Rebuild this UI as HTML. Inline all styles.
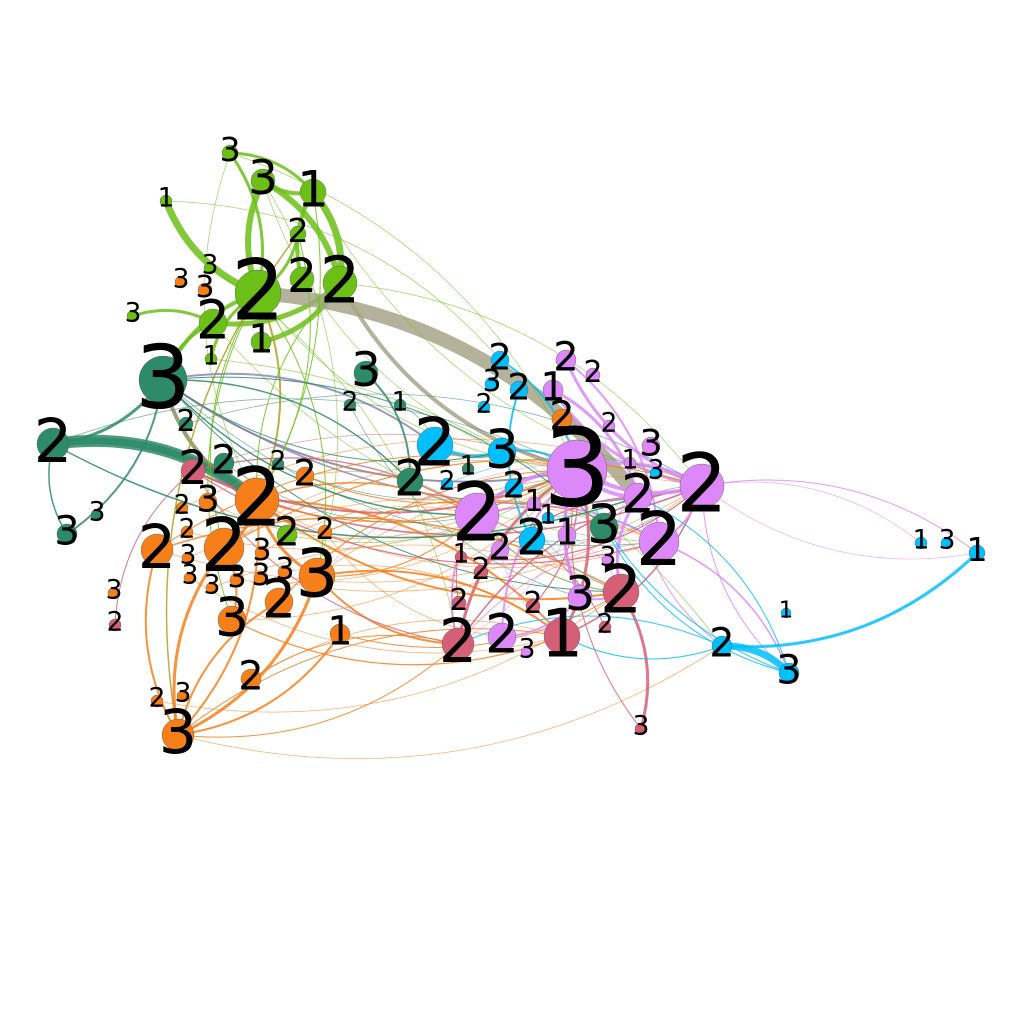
<!DOCTYPE html>
<html><head><meta charset="utf-8"><style>
html,body{margin:0;padding:0;background:#fff;}
svg{display:block;}
text{font-family:"DejaVu Sans","Liberation Sans",sans-serif;fill:#000;}
</style></head><body>
<svg id="chart" width="1024" height="1024" viewBox="0 0 1024 1024">
<g id="edges"></g>
<g id="nodes"></g>
<g id="labels"></g>
</svg>
<script>
const groupColors = {G:"#6cbf16",O:"#f77f1a",D:"#2e8b6a",P:"#d65f78",V:"#dd88f8",C:"#00bfff"};
const nodeGroups = ["G","G","G","G","G","G","G","G","G","G","G","G","G","G",
"O","O","O","O","O","O","O","O","O","O","O","O","O","O","O","O","O","O","O","O","O","O","O","O","O","O","O",
"D","D","D","D","D","D","D","D","D","D","D","D","D",
"P","P","P","P","P","P","P","P","P","P","P",
"V","V","V","V","V","V","V","V","V","V","V","V","V","V","V","V","V","V",
"C","C","C","C","C","C","C","C","C","C","C","C","C","C","C","C","C"];
const nodeX = [230,263,313,166,298,258,302,340,210,213,133,261,211,287,
181,205,257,224,157,208,182,187,188,190,212,237,262,261,285,317,305,325,279,232,340,251,157,183,178,114,562,
163,53,67,97,186,224,278,366,350,400,410,468,604,
193,115,459,458,461,481,533,562,621,605,641,
577,477,566,593,553,651,609,630,638,702,659,534,567,500,502,527,580,608,
500,492,519,484,435,502,447,514,548,532,656,722,789,786,921,947,977];
const nodeY = [153,181,192,201,234,293,279,283,268,323,316,342,359,535,
282,290,500,548,550,502,508,532,558,578,588,580,553,578,572,576,476,532,602,620,634,679,701,696,735,593,419,
380,444,534,515,424,463,464,373,405,405,481,469,527,
471,625,603,644,557,572,606,636,592,627,729,
470,515,360,375,390,446,426,463,497,486,542,504,535,550,637,652,597,560,
360,384,390,407,445,452,484,488,518,540,473,646,673,613,543,543,553];
const nodeSize = [8,12,13,6,8,23,12,17,6,14,6,10,6,10,
6,7,22,20,16,9,6,6,6,6,6,7,7,7,7,18,9,7,14,14,10,10,6,6,16,6,10,
24,16,10,6,7,10,6,12,6,6,13,6,14,
12,6,7,16,6,7,7,18,18,6,6,
30,22,10,7,10,9,6,6,14,22,20,7,9,9,14,6,12,6,
9,7,9,6,18,14,6,9,6,13,6,10,10,5,6,6,8];
const nodeLabels = ["3","3","1","1","2","2","2","2","3","2","3","1","1","2",
"3","3","2","2","2","3","2","2","3","3","3","3","3","3","3","3","2","2","2","3","1","2","2","3","3","3","2",
"3","2","3","3","2","2","2","3","2","1","2","1","3",
"2","2","2","2","1","2","2","1","2","2","3",
"3","2","2","2","1","3","2","1","2","2","2","1","1","2","2","3","3","3",
"2","3","2","2","2","3","2","2","1","2","3","2","3","1","1","3","1"];
const edgeFrom = [0,1,1,1,2,2,0,3,4,9,10,11,12,9,41,5,
5,7,42,41,5,4,
16,17,29,32,34,18,16,16,17,29,16,38,38,38,
41,42,41,41,48,41,
62,54,57,61,18,16,29,41,55,54,
65,65,66,69,67,65,66,81,79,66,16,74,75,73,
94,94,83,87,88,85,74,94,94,
5,7,2,0,41,42,18,17,33,35,36,12,9,29,16,54,46,45,47,3,1,8,13,30,31,50,49,57,58,59,60,77,78,89,90,91,92,53,70,71,72,
42,54,54,54,57,61,62,60,56,58,59,63,64,
16,17,29,32,30,31,33,35,34,18,19,20,21,22,23,24,25,26,27,28,
65,69,67,74,73,81,79,
74,74,95,95,95,
5,5,5,4,7,2,0,1,
41,41,42,41,41];
const edgeTo = [5,5,7,2,7,6,2,5,5,7,9,7,5,41,42,41,
73,65,16,16,16,38,
38,38,38,38,38,38,17,29,33,57,61,57,61,94,
43,43,87,74,51,65,
64,65,65,65,62,62,61,62,54,57,
74,73,65,74,75,81,75,62,65,57,66,95,95,94,
95,99,65,88,65,92,99,57,61,
65,74,74,65,75,65,74,65,65,61,62,94,75,74,75,73,66,74,65,83,88,57,65,66,79,87,81,75,74,73,65,62,61,74,62,75,74,74,62,57,29,
16,74,66,75,74,74,66,65,66,74,73,66,65,
65,74,66,65,65,75,61,57,62,65,66,74,65,75,61,62,65,66,74,61,
74,73,74,75,62,65,81,
97,99,65,73,53,
17,29,33,16,16,17,16,29,
66,53,73,51,88];
const edgeWeight = [3,6,6,4,7,4,3,7,3,5,3,5,3,3,3,4,
14,4,12,4,2,1.5,
2,3,3,2,2,2,3,3,2,2,2,1,1,0.8,
2,1.5,2,1.5,2,2,
3,2,3,3,1.5,2,2,1,1,1,
3,4,4,3,2,3,2,2,2,2,1.5,1,1.5,1,
7,3,2,4,2,2,1,1,1,
0.8,0.8,0.8,0.8,0.8,0.8,0.8,0.8,0.8,0.8,0.8,0.8,0.8,0.8,0.8,0.8,0.8,0.8,0.8,0.8,0.8,0.8,0.8,0.8,0.8,0.8,0.8,0.8,0.8,0.8,0.8,0.8,0.8,0.8,0.8,0.8,0.8,0.8,0.8,0.8,0.8,
7,1.5,1.2,1.2,1.5,1.5,1.2,1,1,1,1.2,1,1,
1.2,1.2,1.2,1,1,1,1.2,1,1,1,0.8,0.8,0.8,0.8,0.8,0.8,0.8,0.8,0.8,0.8,
4,3,3,2,3,3,2,
0.8,0.8,1,1,1,
1,1,1,1,1,1,0.8,0.8,
1.5,1,1.5,1.5,1];
const edgeColorOverride = {16:"#a8a58a",17:"#a8a58a",18:"#2e8b6a",19:"#8a9060",20:"#b0a020",21:"#b0a020",38:"#8888bb",39:"#8888bb",41:"#8080a0",
122:"#a09a50",182:"#b0a020",183:"#b0a020",184:"#b0a020",185:"#b0a020",186:"#b0a020",187:"#b0a020",188:"#b0a020",189:"#b0a020",190:"#8888bb",191:"#8888bb",192:"#8888bb",193:"#8888bb",194:"#8888bb"};

const NS="http://www.w3.org/2000/svg";
const eg=document.getElementById('edges'), ng=document.getElementById('nodes'), lg=document.getElementById('labels');
function px(i){return nodeX[i];}
function py(i){return nodeY[i];}
for(let k=0;k<edgeFrom.length;k++){
  const a=edgeFrom[k], b=edgeTo[k];
  const x1=px(a),y1=py(a),x2=px(b),y2=py(b);
  const dx=x2-x1, dy=y2-y1;
  const s=(k%2?1:-1)*0.22;
  const cx=(x1+x2)/2 - dy*s, cy=(y1+y2)/2 + dx*s;
  const p=document.createElementNS(NS,'path');
  p.setAttribute('d',`M${x1},${y1} Q${cx},${cy} ${x2},${y2}`);
  p.setAttribute('fill','none');
  p.setAttribute('stroke',edgeColorOverride[k]||groupColors[nodeGroups[a]]);
  p.setAttribute('stroke-width',edgeWeight[k]);
  p.setAttribute('stroke-opacity',edgeWeight[k]<1?0.6:0.85);
  
  
  eg.appendChild(p);
}
for(let i=0;i<nodeX.length;i++){
  const c=document.createElementNS(NS,'circle');
  c.setAttribute('cx',px(i));c.setAttribute('cy',py(i));c.setAttribute('r',nodeSize[i]);
  c.setAttribute('fill',groupColors[nodeGroups[i]]);
  c.setAttribute('stroke','#555');c.setAttribute('stroke-width','0.4');
  
  
  ng.appendChild(c);
  const t=document.createElementNS(NS,'text');
  const fs=Math.max(17,nodeSize[i]*3.4+6);
  t.setAttribute('x',px(i));t.setAttribute('y',py(i)-4+fs*0.365);
  t.setAttribute('text-anchor','middle');
  t.setAttribute('font-size',fs);
  t.textContent=nodeLabels[i];
  
  
  lg.appendChild(t);
}
</script>
</body></html>
